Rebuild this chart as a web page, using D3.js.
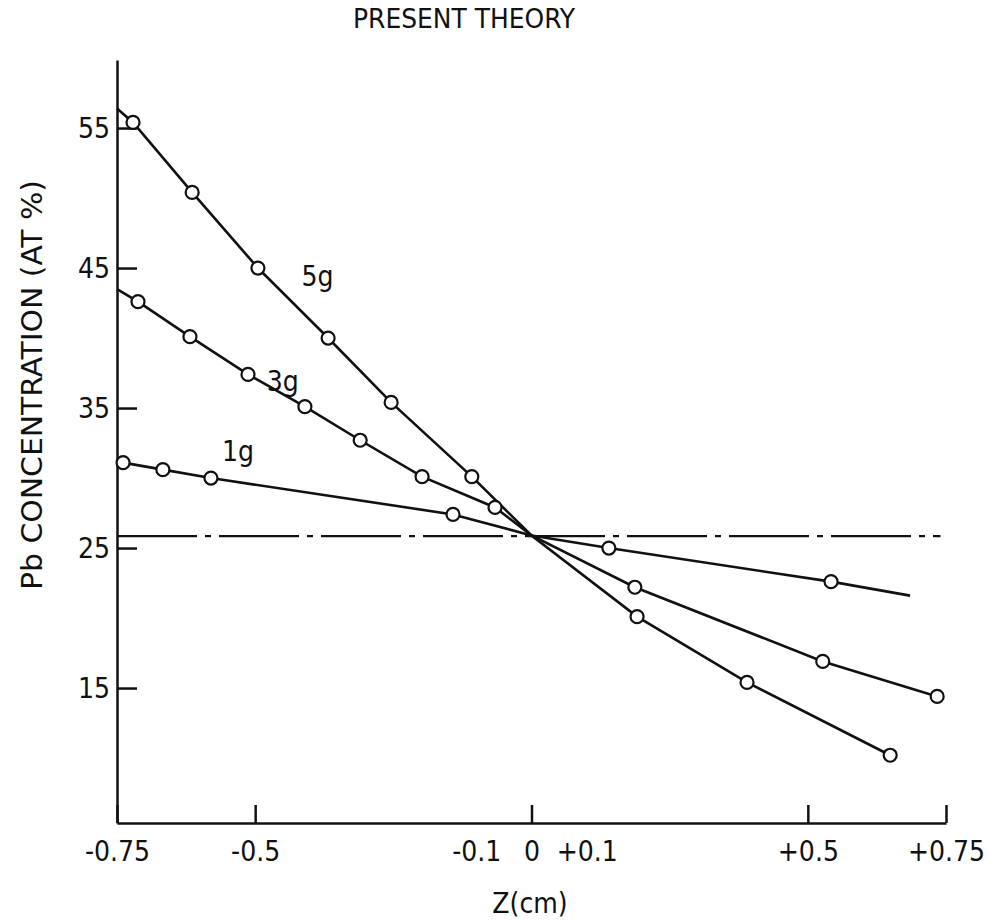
<!DOCTYPE html>
<html>
<head>
<meta charset="UTF-8">
<title>Present Theory</title>
<script src="https://d3js.org/d3.v7.min.js"></script>
<style>
    body { margin: 0; background: #fff; }
    svg text { font-family: "DejaVu Sans Condensed", "DejaVu Sans", sans-serif; fill: #111; }
    .axis path, .axis line { stroke: #111; stroke-width: 2.5; }
    .axis text { font-size: 28px; }
    .curve { fill: none; stroke: #111; stroke-width: 2.6; }
</style>
</head>
<body>
<svg width="988" height="922"></svg>
<script>
    // tick labels
    const xTicks = [-0.75, -0.5, 0, 0.5, 0.75];
    const xTickLabels = ["-0.75", "-0.5", "0", "+0.5", "+0.75"];
    const xExtraTicks = [-0.1, 0.1];
    const xExtraLabels = ["-0.1", "+0.1"];
    const yTicks = [15, 25, 35, 45, 55];

    // series: Z (cm), Pb (at %), marker flag
    const g5Z  = [-0.75, -0.721, -0.614, -0.495, -0.368, -0.254, -0.108, 0, 0.191, 0.390, 0.649];
    const g5Pb = [56.4, 55.4, 50.4, 45.0, 40.0, 35.4, 30.1, 25.9, 20.1, 15.4, 10.2];
    const g5Mk = [0, 1, 1, 1, 1, 1, 1, 0, 1, 1, 1];

    const g3Z  = [-0.75, -0.712, -0.618, -0.513, -0.41, -0.31, -0.198, -0.066, 0, 0.187, 0.527, 0.734];
    const g3Pb = [43.5, 42.6, 40.1, 37.4, 35.1, 32.7, 30.1, 27.9, 25.9, 22.2, 16.9, 14.4];
    const g3Mk = [0, 1, 1, 1, 1, 1, 1, 1, 0, 1, 1, 1];

    const g1Z  = [-0.739, -0.667, -0.58, -0.142, 0, 0.14, 0.542, 0.685];
    const g1Pb = [31.1, 30.6, 30.0, 27.4, 25.9, 25.0, 22.6, 21.6];
    const g1Mk = [1, 1, 1, 1, 0, 1, 1, 0];

    const seriesNames = ["5g", "3g", "1g"];
    const labelZ = [-0.387, -0.45, -0.531];
    const labelPb = [44.4, 36.9, 31.9];

    const refLevel = 25.85;
    const refEnd = 0.74;

    const svg = d3.select("svg");

    const x = d3.scaleLinear().domain([-0.75, 0.75]).range([117, 946]);
    const y = d3.scaleLinear().domain([5.36, 59.86]).range([823, 60]);

    // title
    svg.append("text")
        .attr("x", 464).attr("y", 28)
        .attr("text-anchor", "middle")
        .attr("font-size", 26)
        .attr("textLength", 222)
        .attr("lengthAdjust", "spacingAndGlyphs")
        .text("PRESENT THEORY");

    // axes
    svg.append("g")
        .attr("class", "axis")
        .attr("transform", `translate(0,${y.range()[0]})`)
        .call(d3.axisBottom(x)
            .tickValues(xTicks)
            .tickFormat((d, i) => xTickLabels[i])
            .tickSizeInner(-18).tickSizeOuter(0).tickPadding(18));

    svg.append("g")
        .attr("class", "axis")
        .attr("transform", `translate(0,${y.range()[0]})`)
        .call(d3.axisBottom(x)
            .tickValues(xExtraTicks)
            .tickFormat((d, i) => xExtraLabels[i])
            .tickSize(0).tickPadding(18))
        .call(g => g.select(".domain").remove());

    svg.append("g")
        .attr("class", "axis")
        .attr("transform", `translate(${x.range()[0]},0)`)
        .call(d3.axisLeft(y)
            .tickValues(yTicks)
            .tickSizeInner(-20).tickSizeOuter(0).tickPadding(7));

    // axis titles
    svg.append("text")
        .attr("x", 530).attr("y", 913)
        .attr("text-anchor", "middle")
        .attr("font-size", 28)
        .text("Z(cm)");

    svg.append("text")
        .attr("transform", "translate(42,385) rotate(-90)")
        .attr("text-anchor", "middle")
        .attr("font-size", 28)
        .attr("textLength", 410)
        .attr("lengthAdjust", "spacingAndGlyphs")
        .text("Pb CONCENTRATION (AT %)");

    // reference level (dash-dot)
    svg.append("line")
        .attr("x1", x(-0.75)).attr("x2", x(refEnd))
        .attr("y1", y(refLevel)).attr("y2", y(refLevel))
        .attr("stroke", "#111")
        .attr("stroke-width", 2.2)
        .attr("stroke-dasharray", "80,8,6,8");

    // curves
    const series = [
        {z: g5Z, pb: g5Pb, mk: g5Mk},
        {z: g3Z, pb: g3Pb, mk: g3Mk},
        {z: g1Z, pb: g1Pb, mk: g1Mk}
    ];

    const line = d3.line()
        .x(d => x(d[0]))
        .y(d => y(d[1]));

    series.forEach(s => {
        const pts = s.z.map((z, i) => [z, s.pb[i], s.mk[i]]);
        svg.append("path")
            .datum(pts)
            .attr("class", "curve")
            .attr("d", line);

        svg.selectAll(null)
            .data(pts.filter(p => p[2]))
            .enter().append("circle")
            .attr("cx", d => x(d[0]))
            .attr("cy", d => y(d[1]))
            .attr("r", 6.5)
            .attr("fill", "#fff")
            .attr("stroke", "#111")
            .attr("stroke-width", 2.2);
    });

    // series labels
    svg.selectAll(".lbl")
        .data(seriesNames)
        .enter().append("text")
        .attr("class", "lbl")
        .attr("x", (d, i) => x(labelZ[i]))
        .attr("y", (d, i) => y(labelPb[i]))
        .attr("dy", "0.35em")
        .attr("text-anchor", "middle")
        .attr("font-size", 28)
        .text(d => d);
</script>
</body>
</html>
